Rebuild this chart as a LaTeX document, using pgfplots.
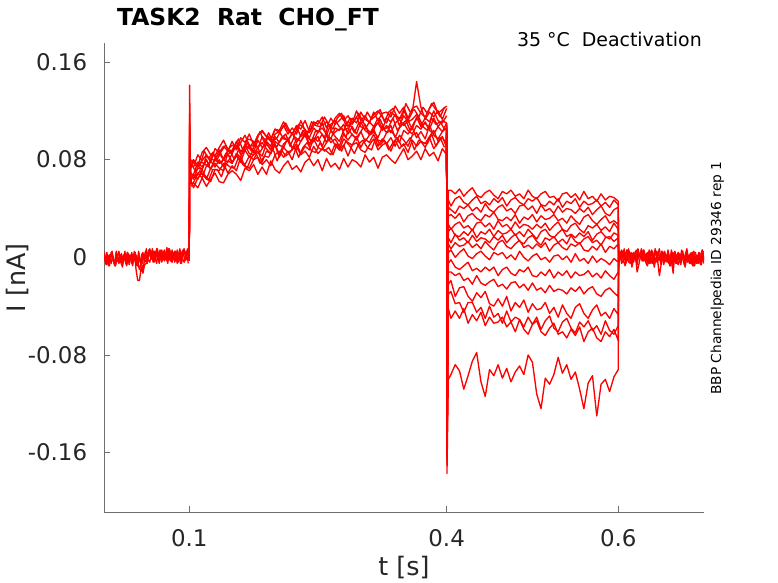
\documentclass[border=0pt]{standalone}
\usepackage{fontspec}
\setmainfont{DejaVu Sans}
\usepackage{pgfplots}
\usepackage{pgfplotstable}
\pgfplotsset{compat=1.18}
\definecolor{tickgray}{RGB}{38,38,38}
\definecolor{axgray}{RGB}{110,110,110}
\pgfplotsset{trace/.style={color=red, solid, mark=none, line width=1.35bp, line join=round}}

% times in ms, currents in pA
\pgfplotstableread{
t a1 a2 a3
0 2 3 4
2 -3 -3 -2
4 4 -6 2
6 -5 1 -7
8 0 -2 1
10 5 4 3
12 -4 -4 -3
14 -6 -7 -6
16 1 -1 0
18 3 -5 5
20 -2 2 -4
22 -7 -8 -1
24 2 0 2
26 -1 -3 -5
28 4 3 4
30 -4 -6 -3
32 1 1 0
34 -5 -4 -7
36 5 -2 3
38 -10 2 -2
40 -19 -7 -5
42 -19 -1 -10
44 -8 -5 -3
46 -13 4 -12
48 -6 -4 0
50 -5 -2 7
52 3 4 -2
54 6 7 -4
56 0 1 3
58 4 -4 5
60 -3 5 0
62 7 2 -5
64 -1 -1 4
66 2 6 1
68 -4 -3 6
70 5 4 -2
72 -2 1 3
74 3 8 -3
76 1 -2 7
78 -3 3 -1
80 6 -1 -4
82 0 4 2
84 4 -3 5
86 -5 6 -2
88 3 1 1
90 5 -4 -5
92 -1 5 3
94 -4 7 6
96 2 0 0
98 7 -2 4
100 -2 3 -3
}\dataA

\pgfplotstableread{
t f1 f2
1 3 5
3 -4 -6
5 0 0
7 -7 2
9 4 -5
11 -2 1
13 -5 -7
15 5 4
17 -3 -1
19 2 -4
21 -6 3
23 1 -3
25 -1 5
27 -7 -6
29 3 -2
31 -2 2
33 4 -5
35 -4 0
37 1 4
39 -6 -7
41 5 1
43 -3 -4
45 -5 3
47 2 -2
49 0 5
51 -5 -3
53 6 4
55 0 0
57 -2 7
59 5 -4
61 -1 2
63 7 5
65 -4 -5
67 1 3
69 4 -2
71 -3 6
73 3 -1
75 -5 1
77 6 7
79 2 -3
81 -2 2
83 5 -4
85 0 4
87 -4 -1
89 7 6
91 -1 -5
93 4 3
95 -3 5
97 2 -2
99 -5 0
}\dataF

\pgfplotstableread{
t b1 b2 b3 b4 b5 b6 b7 b8 b9
100 2 -3 1 0 -2 3 -1 2 0
100.5 141 118 105 96 88 110 100 92 84
101.5 60 64 62 66 70 68 72 75 78
105 61 57 68 65 64 68 80 74 79
110 57 65 64 69 73 78 75 84 75
115 65 69 72 65 72 74 72 79 86
120 58 66 64 75 80 80 83 84 90
125 64 62 73 79 72 72 81 78 84
130 69 72 77 74 80 81 79 89 83
135 62 71 73 80 77 85 88 86 90
140 61 77 71 74 80 80 80 91 96
145 68 69 79 85 85 78 88 87 88
150 71 75 77 78 77 85 86 95 92
155 68 71 85 83 85 92 95 88 89
160 63 82 78 78 82 84 86 94 98
165 73 75 76 88 92 88 92 100 94
170 71 73 83 82 85 92 89 92 101
175 76 80 80 88 84 86 95 91 92
180 68 82 87 86 90 96 89 100 100
185 74 76 78 83 94 90 99 103 104
190 68 80 87 93 89 94 95 99 99
195 79 75 85 88 85 88 91 95 97
200 72 84 92 93 95 99 101 105 105
205 69 87 82 84 92 94 103 102 104
210 75 82 90 93 90 99 97 108 111
215 79 87 86 96 98 95 96 101 104
220 72 80 88 90 89 102 101 106 101
225 75 91 93 88 97 94 107 101 108
230 70 84 85 95 95 100 99 112 105
235 78 87 91 100 102 105 102 104 112
240 81 82 88 92 93 97 98 102 103
245 75 91 97 95 98 95 106 108 111
250 80 85 90 99 95 103 102 112 109
255 71 89 88 91 101 106 110 108 115
260 81 87 94 100 94 101 100 111 106
265 74 84 98 94 104 97 109 106 114
270 77 93 92 97 99 106 112 114 109
275 72 88 88 91 95 104 107 118 112
280 81 92 97 101 104 109 104 112 116
285 74 83 94 96 106 101 111 116 107
290 80 92 92 101 100 107 109 110 114
295 78 94 99 96 98 101 115 120 110
300 74 88 90 103 103 111 107 112 119
305 84 86 97 95 109 104 105 116 113
310 78 92 94 100 100 101 111 110 111
315 82 97 101 105 103 107 107 119 117
320 73 88 91 96 98 110 114 112 120
325 82 92 97 95 107 104 105 118 115
330 84 94 93 102 102 108 114 119 110
335 80 87 98 104 108 102 111 115 119
340 77 96 91 99 98 110 117 124 116
345 83 89 100 94 106 113 108 118 113
350 89 93 96 104 110 108 116 123 121
355 80 86 91 101 104 112 111 114 112
360 83 96 100 106 101 105 113 122 119
365 87 91 102 98 108 115 117 124 144
370 80 95 95 103 105 107 108 118 123
375 89 90 93 97 111 110 114 115 113
380 83 98 99 108 104 105 111 122 119
385 86 89 104 100 101 114 120 127 115
390 79 94 95 97 107 107 112 118 120
395 89 99 98 103 103 112 110 121 113
400 84 90 93 106 110 110 116 124 122
}\dataB

\pgfplotstableread{
t e1 e2 e3
102.5 58 77 80
107.5 65 70 75
112.5 71 78 75
117.5 66 77 87
122.5 63 74 81
127.5 72 85 86
132.5 72 79 80
137.5 66 77 87
142.5 77 85 92
147.5 74 88 85
152.5 73 80 91
157.5 82 88 97
162.5 76 87 88
167.5 73 94 97
172.5 82 87 96
177.5 86 93 94
182.5 77 86 103
187.5 83 92 94
192.5 82 99 102
197.5 89 92 95
202.5 79 91 98
207.5 88 98 105
212.5 83 101 110
217.5 86 91 103
222.5 91 99 100
227.5 82 96 109
232.5 90 104 107
237.5 94 99 101
242.5 87 95 111
247.5 86 104 108
252.5 94 103 107
257.5 87 98 115
262.5 90 109 109
267.5 84 101 105
272.5 93 104 114
277.5 87 106 118
282.5 95 98 108
287.5 91 109 114
292.5 85 102 112
297.5 93 110 118
302.5 96 111 111
307.5 90 105 119
312.5 88 101 113
317.5 98 108 116
322.5 92 113 121
327.5 96 105 111
332.5 88 107 119
337.5 94 114 122
342.5 98 104 115
347.5 91 109 114
352.5 93 112 126
357.5 98 104 119
362.5 88 111 121
367.5 96 115 115
372.5 94 107 123
377.5 93 104 118
382.5 101 114 126
387.5 91 109 121
392.5 98 111 115
397.5 90 105 123
}\dataE

\pgfplotstableread{
t c1 c2 c3 c4 c5 c6 c7 c8 c9 c10 c11 c12 c13 c14 c15
400 105 100 108 98 103 110 101 106 99 104 102 107 100 105 109
400.4 -120 -125 -130 -135 -140 -145 -150 -155 -160 -150 -165 -160 -170 -165 -177
402 55 47 41 34 27 21 16 11 4 -5 -12 -22 -30 -42 -100
405 55 42 39 35 23 24 12 7 6 -2 -12 -19 -28 -50 -96
410 52 48 36 32 27 18 19 12 0 -8 -15 -32 -38 -44 -88
415 56 50 42 36 29 17 14 9 4 -10 -13 -25 -37 -50 -93
420 50 45 40 29 24 21 16 10 7 -7 -19 -24 -45 -42 -108
425 54 43 43 34 26 18 12 13 1 -4 -17 -32 -37 -54 -97
430 57 47 38 36 22 23 18 8 -1 -11 -22 -36 -37 -47 -85
435 51 50 41 32 28 16 13 11 3 -9 -15 -29 -45 -52 -78
440 49 44 37 30 29 21 16 7 5 -12 -21 -33 -41 -45 -102
445 53 46 44 35 25 19 15 13 1 -8 -23 -28 -50 -56 -114
450 55 43 39 33 28 23 12 9 -2 -11 -20 -38 -40 -49 -92
455 51 48 37 37 23 17 17 6 4 -8 -18 -40 -49 -54 -97
460 48 45 41 31 30 22 14 12 2 -15 -24 -34 -46 -53 -88
465 54 49 43 30 25 19 18 14 4 -10 -22 -40 -54 -49 -99
470 52 42 38 33 27 20 12 9 -1 -8 -26 -32 -44 -57 -91
475 55 47 40 30 23 23 16 7 2 -13 -21 -44 -53 -53 -102
480 50 49 36 35 29 18 19 11 -2 -15 -20 -37 -49 -61 -94
485 52 45 42 28 24 21 13 14 5 -10 -25 -41 -51 -51 -89
490 48 43 43 33 27 17 11 8 0 -12 -22 -35 -57 -59 -96
495 55 48 39 31 26 23 16 10 -3 -8 -27 -45 -49 -63 -80
500 50 46 42 35 23 19 18 7 1 -15 -21 -38 -55 -55 -86
505 48 49 36 29 27 15 13 11 3 -16 -27 -43 -49 -52 -112
510 52 43 43 34 24 21 10 8 -2 -12 -25 -42 -59 -61 -124
515 54 42 38 31 28 23 16 12 0 -15 -29 -37 -52 -64 -99
520 49 46 40 32 22 18 14 5 -4 -10 -23 -46 -48 -58 -104
525 50 43 36 35 26 16 17 10 1 -17 -28 -41 -58 -54 -96
530 46 48 42 30 29 20 12 12 2 -12 -26 -49 -61 -63 -82
535 52 41 37 32 23 23 15 8 -2 -15 -27 -39 -53 -61 -95
540 53 46 40 28 21 17 11 6 1 -11 -30 -46 -50 -66 -88
545 49 44 39 34 26 19 18 11 -4 -17 -25 -50 -58 -59 -100
550 52 48 36 30 28 16 13 9 3 -12 -28 -41 -62 -64 -94
555 47 41 40 27 23 20 11 12 -3 -15 -24 -38 -53 -57 -108
560 54 46 37 33 20 17 15 6 -1 -14 -30 -46 -57 -69 -124
565 48 43 41 35 26 21 17 5 -5 -11 -26 -50 -52 -61 -103
570 50 44 35 30 24 14 12 9 1 -16 -24 -43 -60 -58 -97
575 46 47 39 27 27 19 14 6 -4 -13 -30 -39 -56 -66 -130
580 52 42 42 31 22 21 10 11 -1 -17 -32 -48 -63 -69 -104
585 47 45 36 34 25 17 16 4 -3 -11 -27 -45 -52 -61 -100
590 50 41 34 28 21 15 17 9 -6 -15 -25 -50 -60 -65 -110
595 49 47 39 30 28 20 13 7 -1 -18 -29 -42 -63 -59 -98
600 46 43 41 27 23 18 16 11 -4 -12 -32 -47 -56 -68 -92
600.5 3 -2 1 -4 2 0 -3 4 -1 2 -2 1 0 -3 2
}\dataC

\pgfplotstableread{
t d1 d2 d3
600.5 3 -1 -5
602 -2 4 3
604 5 -5 6
606 -4 -2 0
608 1 -7 4
610 6 1 -3
612 -3 -4 7
614 -5 2 -1
616 2 -8 2
618 4 0 -4
620 -1 3 5
622 -6 -12 -2
624 3 -6 3
626 0 1 1
628 5 -2 -3
630 -3 4 6
632 2 -4 0
634 -4 -7 4
636 6 -1 -5
638 -2 -5 3
640 -5 2 5
642 1 -8 -1
644 4 0 -4
646 -3 -3 2
648 0 -15 7
650 -6 -6 -2
652 2 1 1
654 5 -4 4
656 -1 -2 -3
658 3 2 6
660 -4 -7 -1
662 6 -1 2
664 -2 -13 -5
666 1 4 5
668 -5 -4 0
670 4 -6 4
672 -3 0 -1
674 2 3 6
676 0 -3 -3
678 -4 -8 2
680 5 1 7
682 -1 -2 -2
684 3 -5 -4
686 -6 2 3
688 2 -7 5
690 4 0 0
692 -2 -3 -5
694 -5 4 4
696 1 -6 1
698 6 -1 6
700 -3 -5 -2
}\dataD

\pgfplotstableread{
t g1 g2
601 -3 0
603 4 -2
605 0 5
607 7 3
609 -4 -5
611 2 6
613 5 -1
615 -5 4
617 3 -4
619 -2 2
621 6 -3
623 -1 7
625 1 1
627 7 -1
629 -3 6
631 2 -2
633 -4 3
635 4 -5
637 -1 5
639 6 2
641 -5 -4
643 3 7
645 5 0
647 -2 4
649 0 -3
651 5 5
653 -6 -2
655 0 3
657 2 -4
659 -5 1
661 1 -7
663 -7 4
665 4 0
667 -1 -5
669 -4 2
671 3 -2
673 -3 -6
675 5 5
677 -6 -3
679 -2 3
681 2 -4
683 -5 -1
685 0 4
687 4 -7
689 -7 1
691 1 -5
693 -4 2
695 3 0
697 -2 -6
699 5 5
}\dataG

\begin{document}
\begin{tikzpicture}[x=1bp,y=1bp]
\useasboundingbox (0,0) rectangle (778,583);
\begin{axis}[
  at={(104.3bp,70.7bp)}, anchor=south west,
  scale only axis, width=599.7bp, height=469.3bp,
  xmin=1, xmax=700, ymin=-208.9, ymax=175.6,
  axis x line*=bottom, axis y line*=left,
  xtick pos=bottom, ytick pos=left,
  axis line style={draw=axgray, line width=0.6bp},
  tick align=inside, major tick length=6bp,
  tick style={draw=axgray, line width=0.6bp},
  xtick={100,400,600}, xticklabels={0.1,0.4,0.6},
  ytick={-160,-80,0,80,160}, yticklabels={-0.16,-0.08,0,0.08,0.16},
  ticklabel style={font=\fontsize{23}{23}\selectfont, text=tickgray, inner sep=0pt},
  xticklabel style={anchor=base, yshift=-34bp},
  yticklabel style={anchor=base east, xshift=-17bp, yshift=-8.2bp},
]
\addplot[trace] table[x=t, y=c1] {\dataC};
\addplot[trace] table[x=t, y=c2] {\dataC};
\addplot[trace] table[x=t, y=c3] {\dataC};
\addplot[trace] table[x=t, y=c4] {\dataC};
\addplot[trace] table[x=t, y=c5] {\dataC};
\addplot[trace] table[x=t, y=c6] {\dataC};
\addplot[trace] table[x=t, y=c7] {\dataC};
\addplot[trace] table[x=t, y=c8] {\dataC};
\addplot[trace] table[x=t, y=c9] {\dataC};
\addplot[trace] table[x=t, y=c10] {\dataC};
\addplot[trace] table[x=t, y=c11] {\dataC};
\addplot[trace] table[x=t, y=c12] {\dataC};
\addplot[trace] table[x=t, y=c13] {\dataC};
\addplot[trace] table[x=t, y=c14] {\dataC};
\addplot[trace] table[x=t, y=c15] {\dataC};
\addplot[trace] table[x=t, y=b1] {\dataB};
\addplot[trace] table[x=t, y=b2] {\dataB};
\addplot[trace] table[x=t, y=b3] {\dataB};
\addplot[trace] table[x=t, y=b4] {\dataB};
\addplot[trace] table[x=t, y=b5] {\dataB};
\addplot[trace] table[x=t, y=b6] {\dataB};
\addplot[trace] table[x=t, y=b7] {\dataB};
\addplot[trace] table[x=t, y=b8] {\dataB};
\addplot[trace] table[x=t, y=b9] {\dataB};
\addplot[trace] table[x=t, y=e1] {\dataE};
\addplot[trace] table[x=t, y=e2] {\dataE};
\addplot[trace] table[x=t, y=e3] {\dataE};
\addplot[trace] table[x=t, y=a1] {\dataA};
\addplot[trace] table[x=t, y=a2] {\dataA};
\addplot[trace] table[x=t, y=a3] {\dataA};
\addplot[trace] table[x=t, y=f1] {\dataF};
\addplot[trace] table[x=t, y=f2] {\dataF};
\addplot[trace] table[x=t, y=d1] {\dataD};
\addplot[trace] table[x=t, y=d2] {\dataD};
\addplot[trace] table[x=t, y=d3] {\dataD};
\addplot[trace] table[x=t, y=g1] {\dataG};
\addplot[trace] table[x=t, y=g2] {\dataG};
\end{axis}
\node[anchor=base west, inner sep=0pt, font=\bfseries\fontsize{23.5}{23.5}\selectfont] at (117,557) {TASK2~~Rat~~CHO\_FT};
\node[anchor=base east, inner sep=0pt, font=\fontsize{19}{19}\selectfont] at (702,536.3) {35 °C~~Deactivation};
\node[rotate=90, anchor=base west, inner sep=0pt, font=\fontsize{13.8}{13.8}\selectfont] at (721,188) {BBP Channelpedia ID 29346 rep 1};
\node[rotate=90, anchor=base, inner sep=0pt, text=tickgray, font=\fontsize{25.5}{25.5}\selectfont] at (25,305.3) {I [nA]};
\node[anchor=base, inner sep=0pt, text=tickgray, font=\fontsize{25.5}{25.5}\selectfont] at (404,7) {t [s]};
\end{tikzpicture}
\end{document}
